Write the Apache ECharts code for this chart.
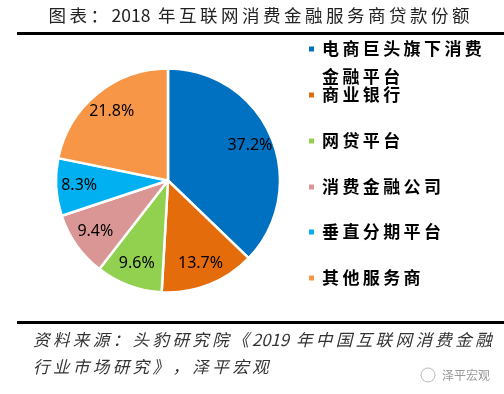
<!DOCTYPE html>
<html><head><meta charset="utf-8">
<script src="https://cdn.jsdelivr.net/npm/echarts@6/dist/echarts.min.js"></script>
<style>html,body{margin:0;padding:0;background:#fff}#c{width:504px;height:394px}</style>
</head><body><div id="c"></div>
<script>
const categories = ['电商巨头旗下消费金融平台', '商业银行', '网贷平台', '消费金融公司', '垂直分期平台', '其他服务商'];
const shares = [37.2, 13.7, 9.6, 9.4, 8.3, 21.8];
const colors = ['#0070C0', '#E46C0A', '#92D050', '#D99694', '#00B0F0', '#F79646'];
const titleText = '图表：2018 年互联网消费金融服务商贷款份额';
const sourceLines = ['资料来源：头豹研究院《2019 年中国互联网消费金融', '行业市场研究》，泽平宏观'];
const watermark = '泽平宏观';

const legendIconY = [49, 95, 141, 187, 232, 278];

function isWide(ch) { return ch.charCodeAt(0) > 0x2000; }
function spaced(s) {
  const a = Array.from(s);
  let out = '';
  for (let i = 0; i < a.length; i++) {
    out += a[i];
    if (i < a.length - 1 && a[i] !== '\n' && a[i + 1] !== '\n' && (isWide(a[i]) || isWide(a[i + 1]))) out += '\u2009';
  }
  return out;
}
// long names wrap after 8 chars; a blank lead line keeps the first line level with the icon
function wrap(s) { return s.length > 8 ? '\u00a0\n' + s.slice(0, 8) + '\n' + s.slice(8) : s; }

const chart = echarts.init(document.getElementById('c'), null, { renderer: 'canvas' });
const pieData = categories.map((n, i) => ({ name: n, value: shares[i], itemStyle: { color: colors[i] } }));

const legends = categories.map((name, i) => {
  const multi = wrap(name).indexOf('\n') >= 0;
  return {
    data: [name], orient: 'vertical', left: 307,
    top: multi ? legendIconY[i] - 42 : legendIconY[i] - 10,
    padding: 0, itemWidth: 7, itemHeight: 7, icon: 'rect', selectedMode: false,
    formatter: n => spaced(wrap(n)),
    textStyle: { fontSize: 17, fontWeight: 'bold', color: '#000', fontFamily: 'Noto Sans CJK SC',
      lineHeight: multi ? 28 : 20, padding: [0, 0, 0, 2] }
  };
});

chart.setOption({
  animation: false,
  backgroundColor: '#fff',
  legend: legends,
  series: [
    { type: 'pie', center: [168, 180.5], radius: 112, startAngle: 90, clockwise: true, silent: true,
      label: { show: false }, labelLine: { show: false },
      itemStyle: { borderColor: '#fff', borderWidth: 2.5 }, data: pieData },
    { type: 'pie', center: [168, 180.5], radius: [60, 112], startAngle: 90, clockwise: true, silent: true,
      itemStyle: { color: 'rgba(0,0,0,0)', borderWidth: 0 },
      label: { show: true, position: 'inside', formatter: p => p.value.toFixed(1) + '%',
        fontSize: 16, fontFamily: 'Noto Sans', color: '#000' },
      labelLine: { show: false },
      data: categories.map((n, i) => ({ name: n, value: shares[i] })) }
  ],
  graphic: [
    { type: 'text', x: 259, y: 15, style: { text: spaced(titleText), font: '17.5px "Noto Sans CJK SC"', fill: '#222', align: 'center', verticalAlign: 'middle' } },
    { type: 'rect', shape: { x: 17, y: 32, width: 487, height: 3 }, style: { fill: '#000' } },
    { type: 'rect', shape: { x: 17, y: 321, width: 487, height: 3 }, style: { fill: '#000' } },
    { type: 'text', x: 33, y: 340, style: { text: spaced(sourceLines[0]), font: 'italic 16.6px "Noto Sans CJK SC"', fill: '#333', verticalAlign: 'middle' } },
    { type: 'text', x: 33, y: 367, style: { text: spaced(sourceLines[1]), font: 'italic 16.6px "Noto Sans CJK SC"', fill: '#333', verticalAlign: 'middle' } },
    { type: 'circle', shape: { cx: 428, cy: 375, r: 7 }, style: { fill: 'none', stroke: '#bbb', lineWidth: 1 } },
    { type: 'text', x: 442, y: 375, style: { text: watermark, font: '12px "Noto Sans CJK SC"', fill: '#999', verticalAlign: 'middle' } }
  ]
});
</script></body></html>
